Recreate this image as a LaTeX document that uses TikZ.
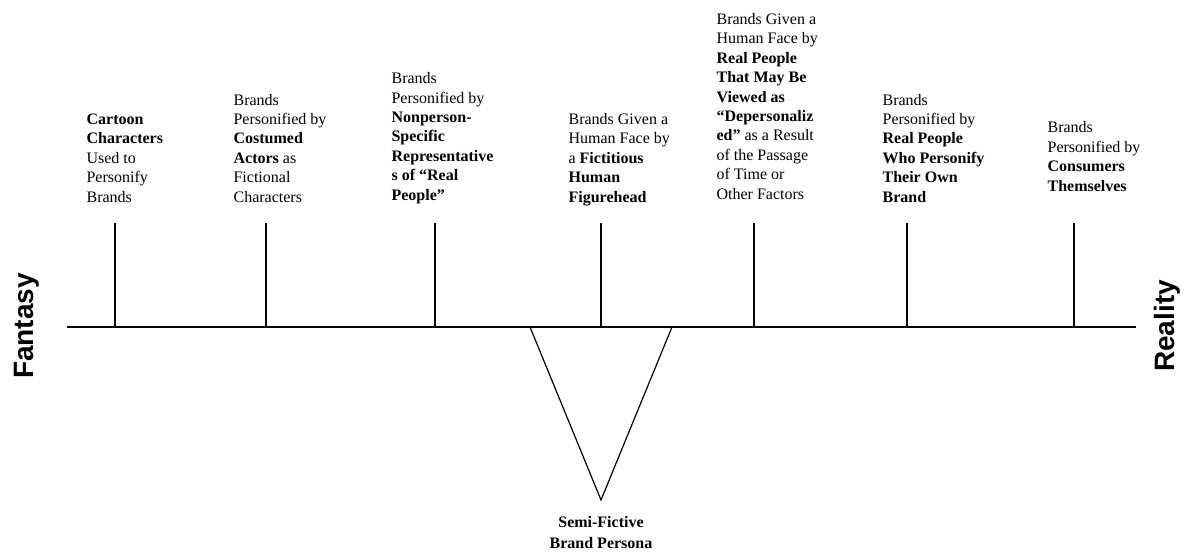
\documentclass[tikz,border=0pt]{standalone}
\usepackage{fontspec}
\setmainfont{Liberation Serif}
\newfontfamily\sansfam{Liberation Sans}
\begin{document}
\begin{tikzpicture}[x=1pt,y=-1pt,line width=1.2pt,
  lbl/.style={anchor=base west,inner sep=0pt,align=left,font=\fontsize{16}{19.4}\selectfont},
  pole/.style={anchor=base,inner sep=0pt,rotate=90,font=\sansfam\bfseries\fontsize{28}{30}\selectfont},
  persona/.style={anchor=base,inner sep=0pt,align=center,font=\bfseries\fontsize{16}{21}\selectfont}]
\useasboundingbox (0,0) rectangle (1184,554);
% axis
\coordinate (L) at (67,327);
\coordinate (R) at (1136,327);
\draw (L) -- (R);
% ticks
\foreach \i/\x in {1/115,2/266,3/435,4/601,5/754,6/907,7/1074}{
  \coordinate (t\i) at (\x,223);
  \coordinate (b\i) at (\x,327);
  \draw (t\i) -- (b\i);
}
% triangle
\coordinate (A) at (530,327);
\coordinate (B) at (672,327);
\coordinate (C) at (601,500);
\draw[line join=miter] (A) -- (C) -- (B);
% pole labels
\node[pole] (fantasy) at (33,326) {Fantasy};
\node[pole] (reality) at (1174,326) {Reality};
% category labels (anchored at the baseline of their last line)
\node[lbl] (c1) at (86,202) {\textbf{Cartoon}\\\textbf{Characters}\\Used to\\Personify\\Brands};
\node[lbl] (c2) at (233,202) {Brands\\Personified by\\\textbf{Costumed}\\\textbf{Actors} as\\Fictional\\Characters};
\node[lbl] (c3) at (391,200) {Brands\\Personified by\\\textbf{Nonperson-}\\\textbf{Specific}\\\textbf{Representative}\\\textbf{s of “Real}\\\textbf{People”}};
\node[lbl] (c4) at (568,202) {Brands Given a\\Human Face by\\a \textbf{Fictitious}\\\textbf{Human}\\\textbf{Figurehead}};
\node[lbl] (c5) at (716,199) {Brands Given a\\Human Face by\\\textbf{Real People}\\\textbf{That May Be}\\\textbf{Viewed as}\\\textbf{“Depersonaliz}\\\textbf{ed”} as a Result\\of the Passage\\of Time or\\Other Factors};
\node[lbl] (c6) at (882,202) {Brands\\Personified by\\\textbf{Real People}\\\textbf{Who Personify}\\\textbf{Their Own}\\\textbf{Brand}};
\node[lbl] (c7) at (1047,191) {Brands\\Personified by\\\textbf{Consumers}\\\textbf{Themselves}};
% apex label
\node[persona] (sf) at (601,548) {Semi-Fictive\\Brand Persona};
\end{tikzpicture}
\end{document}
